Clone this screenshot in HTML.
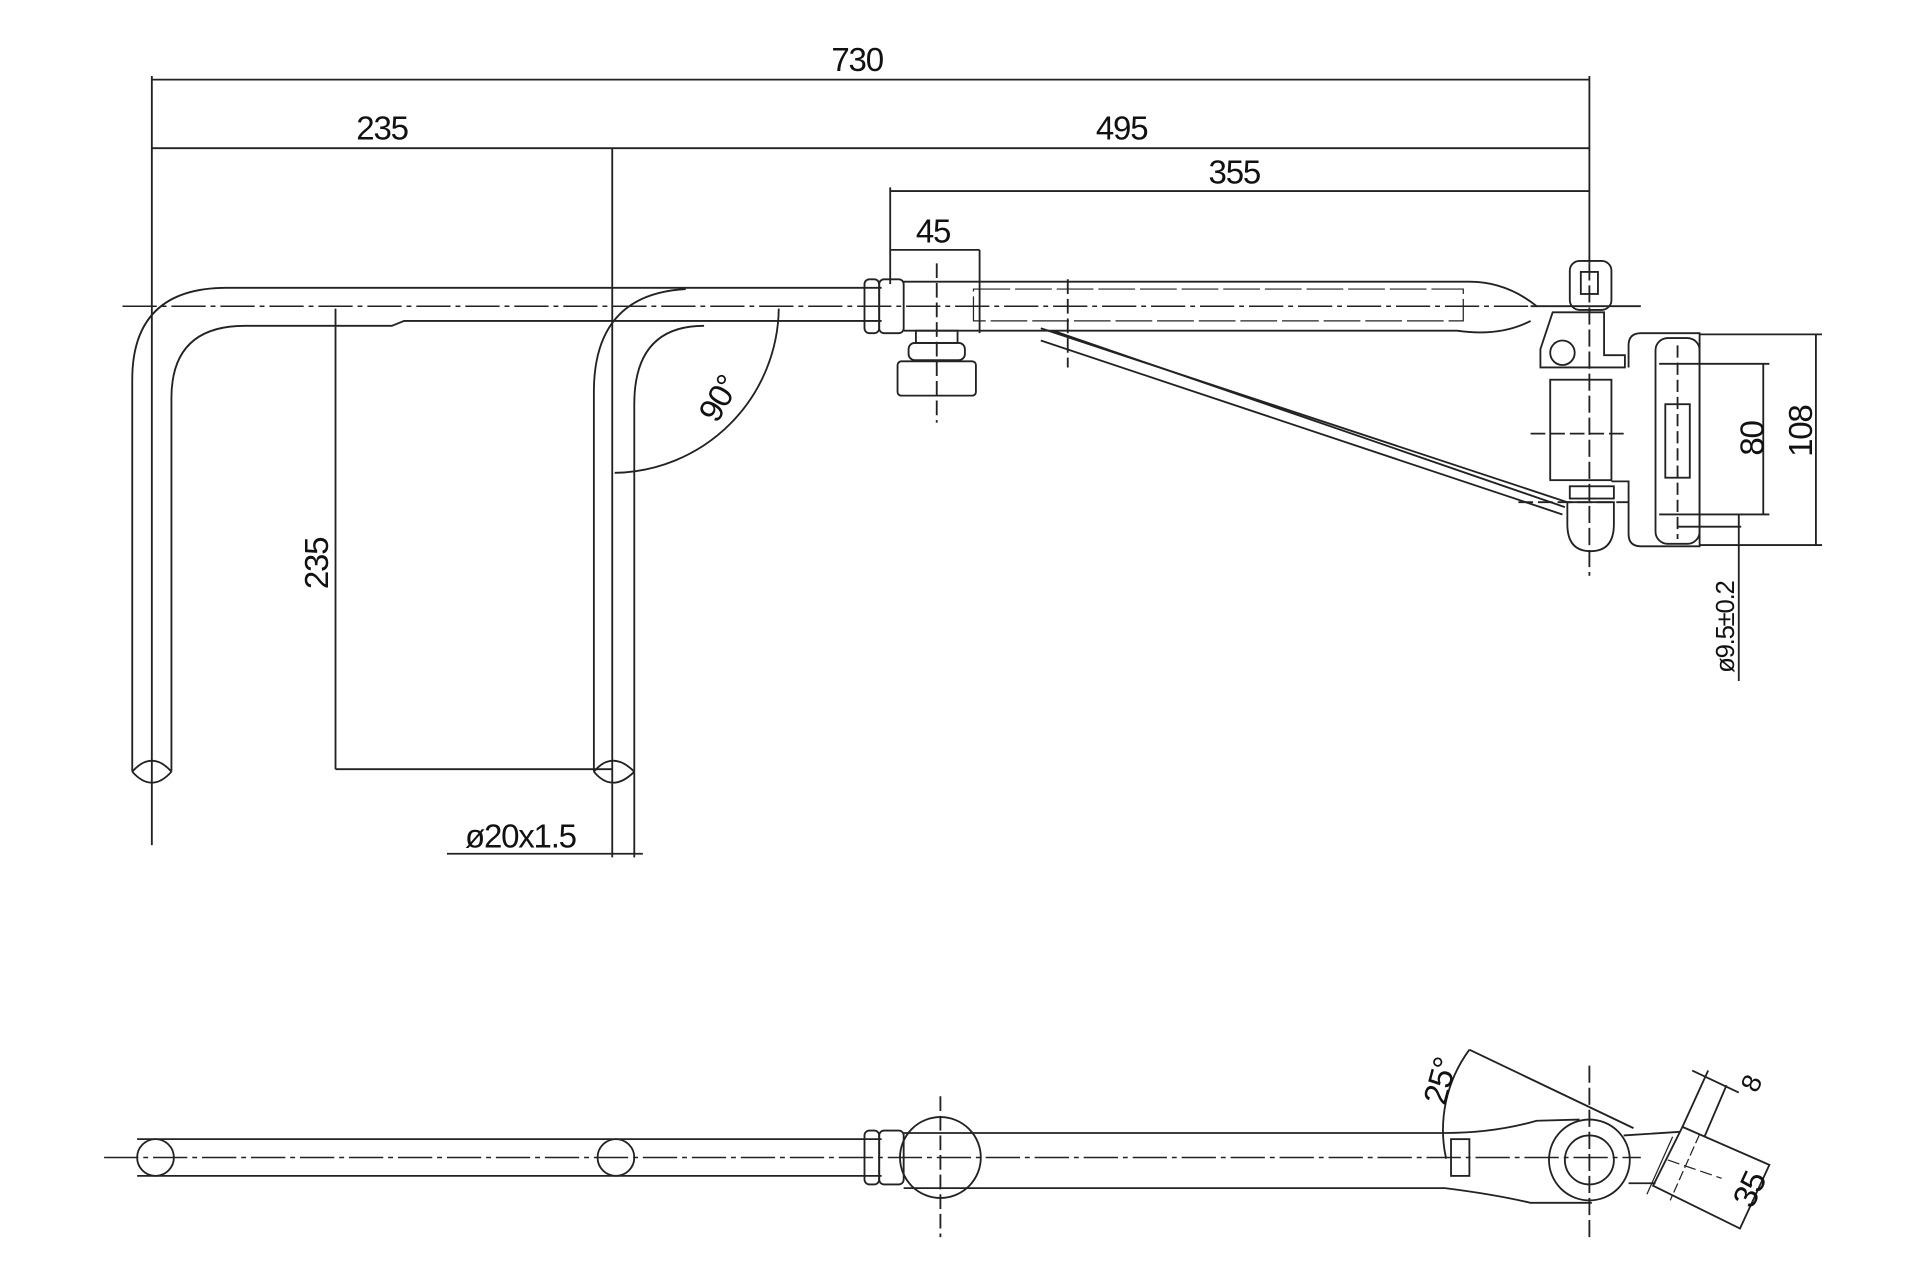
<!DOCTYPE html>
<html><head><meta charset="utf-8"><style>
html,body{margin:0;padding:0;background:#fff;}
svg{display:block}
text{font-family:"Liberation Sans Narrow","Liberation Sans",sans-serif;font-size:27px;fill:#111;letter-spacing:-1px}
</style></head><body>
<svg width="1920" height="1280" viewBox="0 0 1568 1045" preserveAspectRatio="none" xmlns="http://www.w3.org/2000/svg">
<g fill="none" stroke="#222" stroke-width="1.5">
<line x1="124" y1="65" x2="1298" y2="65"/>
<line x1="124" y1="121" x2="1298" y2="121"/>
<line x1="727" y1="156" x2="1298" y2="156"/>
<line x1="727" y1="204" x2="800" y2="204"/>
<line x1="124" y1="62" x2="124" y2="690"/>
<line x1="500" y1="121" x2="500" y2="640"/>
<line x1="1298" y1="62" x2="1298" y2="215"/>
<line x1="727" y1="153" x2="727" y2="232"/>
<line x1="800" y1="204" x2="800" y2="272"/>
<line x1="100" y1="250" x2="1320" y2="250" stroke-dasharray="28 4 4 4" stroke-width="1.2"/>
<path d="M108 630 V310 Q108 235 185 235 H720"/>
<path d="M140 630 V325 Q140 266 200 266 H320 L330 262 H720"/>
<path d="M108 630 Q124 612 140 630 M108 630 Q124 648 140 630"/>
<path d="M485 630 V320 Q485 240 560 236"/>
<path d="M518 630 V330 Q518 266 575 266"/>
<path d="M485 630 Q500 612 518 630 M485 630 Q500 648 518 630"/>
<line x1="274" y1="252" x2="274" y2="628"/>
<line x1="274" y1="628" x2="500" y2="628"/>
<line x1="365" y1="697" x2="525" y2="697"/>
<line x1="518" y1="630" x2="518" y2="700"/>
<line x1="500" y1="640" x2="500" y2="700"/>
<path d="M636 252 A 136 136 0 0 1 502 386"/>
<rect x="706" y="228" width="12" height="44" rx="4"/>
<rect x="718" y="228" width="20" height="44" rx="4"/>
<line x1="765" y1="215" x2="765" y2="345" stroke-dasharray="12 4"/>
<rect x="748" y="270" width="34" height="10"/>
<rect x="742" y="280" width="46" height="14" rx="5"/>
<rect x="733" y="295" width="64" height="28" rx="3"/>
<path d="M738 230 H1200 Q1230 230 1255 250"/>
<path d="M738 270 H1190 Q1225 275 1250 262"/>
<rect x="795" y="236" width="400" height="26" stroke-dasharray="30 4" stroke-width="1"/>
<line x1="872" y1="228" x2="872" y2="300" stroke-dasharray="12 4"/>
<line x1="850" y1="268" x2="1280" y2="410"/>
<line x1="850" y1="278" x2="1276" y2="420"/>
<line x1="860" y1="270" x2="1278" y2="414"/>
<line x1="1298" y1="215" x2="1298" y2="470" stroke-dasharray="14 4"/>
<rect x="1282" y="213" width="34" height="40" rx="8"/>
<rect x="1291" y="222" width="14" height="18"/>
<line x1="1250" y1="250" x2="1340" y2="250"/>
<path d="M1268 255 H1310 V290 H1327 V300 H1258 V285 Z"/>
<circle cx="1276" cy="288" r="10"/>
<rect x="1266" y="310" width="50" height="82"/>
<line x1="1250" y1="354" x2="1330" y2="354" stroke-dasharray="12 4"/>
<rect x="1282" y="397" width="36" height="10"/>
<path d="M1280 410 H1318 V428 Q1318 450 1299 450 Q1280 450 1280 428 Z"/>
<line x1="1240" y1="410" x2="1330" y2="410" stroke-dasharray="12 4"/>
<path d="M1330 300 V282 Q1330 272 1340 272 H1388 V446 H1340 Q1330 446 1330 436 V393 H1316"/>
<rect x="1352" y="276" width="36" height="168" rx="10"/>
<rect x="1360" y="330" width="20" height="60"/>
<line x1="1370" y1="282" x2="1370" y2="440" stroke-dasharray="10 4"/>
<line x1="1355" y1="297" x2="1445" y2="297"/>
<line x1="1355" y1="420" x2="1445" y2="420"/>
<line x1="1440" y1="297" x2="1440" y2="420"/>
<line x1="1388" y1="273" x2="1488" y2="273"/>
<line x1="1388" y1="445" x2="1488" y2="445"/>
<line x1="1483" y1="273" x2="1483" y2="445"/>
<line x1="1370" y1="430" x2="1422" y2="430"/>
<line x1="1420" y1="420" x2="1420" y2="556"/>
<!-- bottom view -->
<line x1="85" y1="945" x2="1340" y2="945" stroke-dasharray="28 4 4 4" stroke-width="1.2"/>
<line x1="112" y1="930" x2="720" y2="930"/>
<line x1="112" y1="960" x2="720" y2="960"/>
<circle cx="127" cy="945" r="15"/>
<circle cx="503" cy="945" r="15"/>
<rect x="706" y="923" width="12" height="44" rx="4"/>
<rect x="718" y="923" width="20" height="44" rx="4"/>
<circle cx="768" cy="945" r="33"/>
<line x1="768" y1="895" x2="768" y2="1010" stroke-dasharray="12 4"/>
<path d="M738 925 H1180 Q1220 925 1255 915 L1290 914"/>
<path d="M738 970 H1180 Q1220 975 1250 982 H1300"/>
<rect x="1185" y="930" width="15" height="30"/>
<circle cx="1298" cy="947" r="20"/>
<circle cx="1298" cy="947" r="33"/>
<line x1="1298" y1="870" x2="1298" y2="1010" stroke-dasharray="14 4"/>
<path d="M1326 927 L1372 924 M1330 966 L1352 966"/>
<path d="M1374 920 L1445 951 L1421 1003 L1350 968 Z"/>
<line x1="1366" y1="928" x2="1345" y2="975" stroke-width="1"/>
<line x1="1388" y1="926" x2="1364" y2="980" stroke-dasharray="8 3" stroke-width="1"/>
<line x1="1374" y1="920" x2="1395" y2="874"/>
<line x1="1392" y1="928" x2="1410" y2="886"/>
<line x1="1382" y1="874" x2="1420" y2="892"/>
<line x1="1362" y1="947" x2="1406" y2="962" stroke-dasharray="10 4" stroke-width="1"/>
<line x1="1200" y1="857" x2="1334" y2="921"/>
<path d="M1200 857 A 110 110 0 0 0 1181 946"/>
</g>
<g>
<text x="700" y="58" text-anchor="middle">730</text>
<text x="312" y="114" text-anchor="middle">235</text>
<text x="916" y="114" text-anchor="middle">495</text>
<text x="1008" y="150" text-anchor="middle">355</text>
<text x="762" y="198" text-anchor="middle">45</text>
<text transform="translate(268,460) rotate(-90)" text-anchor="middle">235</text>
<text x="425" y="692" text-anchor="middle">ø20x1.5</text>
<text transform="translate(595,330) rotate(-60)" text-anchor="middle">90°</text>
<text transform="translate(1440,358) rotate(-90)" text-anchor="middle">80</text>
<text transform="translate(1480,352) rotate(-90)" text-anchor="middle">108</text>
<text transform="translate(1416,512) rotate(-90)" text-anchor="middle" style="font-size:21px">ø9.5±0.2</text>
<text transform="translate(1185,885) rotate(-75)" text-anchor="middle">25°</text>
<text transform="translate(1437,888) rotate(-65)" text-anchor="middle" style="font-size:22px">8</text>
<text transform="translate(1437,975) rotate(-65)" text-anchor="middle">35</text>
</g>
</svg>
</body></html>
